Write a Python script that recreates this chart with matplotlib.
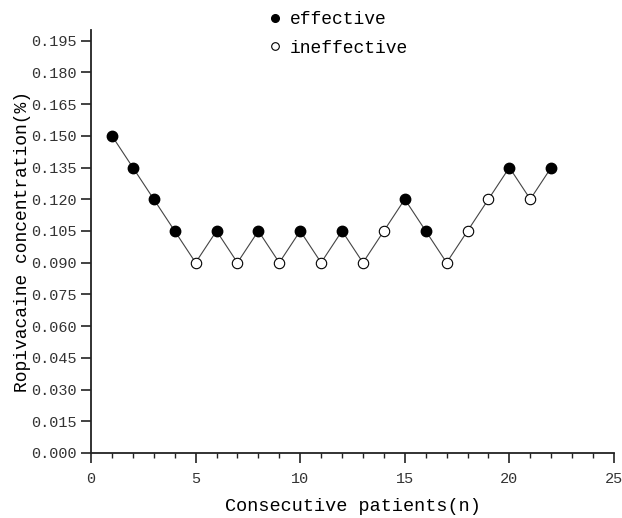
import numpy as np
import matplotlib.pyplot as plt
from matplotlib.lines import Line2D

# Datos
patients = np.arange(1, 23)
conc = np.array([0.150, 0.135, 0.120, 0.105, 0.090, 0.105, 0.090, 0.105, 0.090, 0.105, 0.090,
                 0.105, 0.090, 0.105, 0.120, 0.105, 0.090, 0.105, 0.120, 0.135, 0.120, 0.135])
effective = np.array([1, 1, 1, 1, 0, 1, 0, 1, 0, 1, 0, 1, 0, 0, 1, 1, 0, 0, 0, 1, 0, 1], dtype=bool)
y_ticks = np.arange(0, 0.196, 0.015)
x_ticks = [0, 5, 10, 15, 20, 25]

plt.rcParams['font.family'] = ['Liberation Mono', 'DejaVu Sans']

fig = plt.figure(figsize=(6.22, 5.18), dpi=100)
ax = fig.add_axes([0.1463, 0.1255, 0.8408, 0.8165])

ax.plot(patients, conc, '-', color='#444444', lw=0.8, zorder=1)
ax.plot(patients[effective], conc[effective], 'o', ms=7.5, mfc='black', mec='black', zorder=2)
ax.plot(patients[~effective], conc[~effective], 'o', ms=7.5, mfc='white', mec='black', mew=0.8, zorder=2)

ax.set_xlim(0, 25)
ax.set_ylim(0, 0.2)
ax.set_xticks(x_ticks)
ax.set_xticks(np.arange(0, 26, 1), minor=True)
ax.set_yticks(y_ticks)
ax.set_yticklabels([f'{v:.3f}' for v in y_ticks])
ax.tick_params(axis='both', which='major', direction='out', length=7, width=1.2, labelsize=11,
               color='#222222', labelcolor='#333333')
ax.tick_params(axis='x', which='minor', direction='out', length=3.5, width=1.0, color='#222222')
ax.tick_params(axis='x', pad=7)
ax.tick_params(axis='y', pad=3)

for s in ['top', 'right']:
    ax.spines[s].set_visible(False)
for s in ['left', 'bottom']:
    ax.spines[s].set_linewidth(1.3)
    ax.spines[s].set_color('#222222')

ax.set_xlabel('Consecutive patients(n)', fontsize=13.3, labelpad=8)
ax.set_ylabel('Ropivacaine concentration(%)', fontsize=13, labelpad=0)

handles = [Line2D([], [], ls='none', marker='o', ms=5.5, mfc='black', mec='black'),
           Line2D([], [], ls='none', marker='o', ms=5.5, mfc='white', mec='black', mew=0.8)]
fig.legend(handles, ['effective', 'ineffective'], loc='upper center', bbox_to_anchor=(0.545, 1.01),
           frameon=False, fontsize=13, handlelength=0.6, handletextpad=0.5, labelspacing=0.65)

plt.savefig('out.png', dpi=100)
